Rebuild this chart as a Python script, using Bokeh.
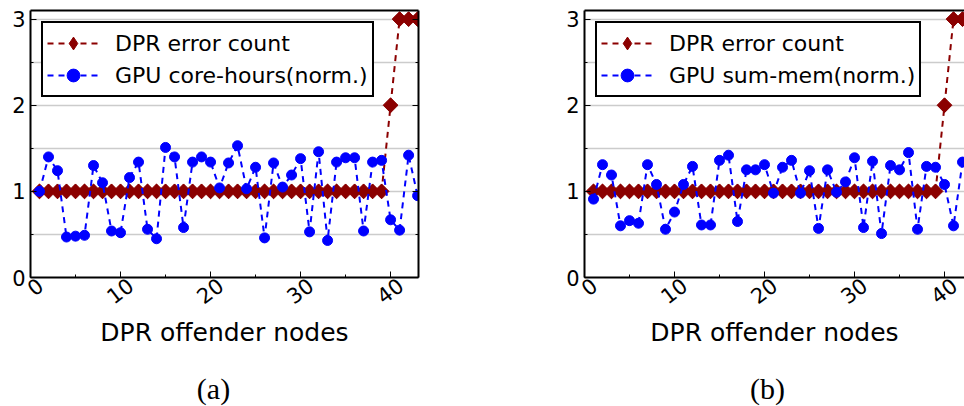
import math
from bokeh.plotting import figure
from bokeh.layouts import row, column
from bokeh.models import (LinearAxis, FixedTicker, Range1d, Grid, Legend, LegendItem, Label,
                          CustomJSTickFormatter)
from bokeh.embed import file_html
from bokeh.resources import INLINE

# ---------------- data ----------------
nodes = [1, 2, 3, 4, 5, 6, 7, 8, 9, 10, 11, 12, 13, 14, 15, 16, 17, 18, 19, 20, 21,
         22, 23, 24, 25, 26, 27, 28, 29, 30, 31, 32, 33, 34, 35, 36, 37, 38, 39, 40,
         41, 42, 43]
dpr_error_count = [1, 1, 1, 1, 1, 1, 1, 1, 1, 1, 1, 1, 1, 1, 1, 1, 1, 1, 1, 1, 1,
                   1, 1, 1, 1, 1, 1, 1, 1, 1, 1, 1, 1, 1, 1, 1, 1, 1, 1, 2,
                   3, 3, 3]
gpu_core_hours = [1.00, 1.40, 1.24, 0.47, 0.48, 0.49, 1.30, 1.10, 0.54, 0.52,
                  1.16, 1.34, 0.56, 0.45, 1.51, 1.40, 0.58, 1.34, 1.40, 1.34,
                  1.04, 1.33, 1.53, 1.03, 1.28, 0.46, 1.33, 1.05, 1.19, 1.38,
                  0.53, 1.46, 0.43, 1.34, 1.39, 1.39, 0.54, 1.34, 1.36, 0.67,
                  0.55, 1.42, 0.95]
nodes_b = [1, 2, 3, 4, 5, 6, 7, 8, 9, 10, 11, 12, 13, 14, 15, 16, 17, 18, 19, 20, 21,
           22, 23, 24, 25, 26, 27, 28, 29, 30, 31, 32, 33, 34, 35, 36, 37, 38, 39, 40,
           41, 42]
gpu_sum_mem = [0.91, 1.31, 1.19, 0.60, 0.66, 0.63, 1.31, 1.08, 0.56, 0.76,
               1.08, 1.29, 0.61, 0.61, 1.36, 1.42, 0.65, 1.25, 1.25, 1.31,
               0.98, 1.28, 1.36, 0.98, 1.24, 0.57, 1.25, 0.99, 1.11, 1.39,
               0.58, 1.35, 0.51, 1.30, 1.25, 1.45, 0.56, 1.29, 1.28, 1.08,
               0.60, 1.34]
x_ticks = [0, 10, 20, 30, 40]
x_minor_ticks = [5, 15, 25, 35]
y_ticks = [0, 1, 2, 3]
y_minor_ticks = [0.5, 1.5, 2.5]

RED = "#8b0000"
BLUE = "#0000ff"
FONT = "DejaVu Sans"
LABEL_SHIFT = 1.1   # rotated x tick labels are centred under their tick


def tick_axis(ticks, tick_len, line):
    # an axis that only draws tick marks (as minor ticks) pointing into the frame
    ax = LinearAxis(ticker=FixedTicker(ticks=[], minor_ticks=ticks))
    ax.axis_line_color = "black" if line else None
    ax.axis_line_width = 2
    ax.major_tick_line_color = None
    ax.minor_tick_in = tick_len
    ax.minor_tick_out = 0
    ax.minor_tick_line_color = "black" if tick_len > 0 else None
    ax.minor_tick_line_width = 1
    ax.major_label_standoff = 0
    return ax


def make_panel(width, border_left, border_right, x_end, gx, gy, gpu_label, right_axis):
    p = figure(width=width, height=366, x_range=Range1d(0, x_end), y_range=Range1d(0, 3.1),
               x_axis_type=None, y_axis_type=None, output_backend="svg", toolbar_location=None,
               min_border_left=border_left, min_border_right=border_right,
               min_border_top=10, min_border_bottom=89)
    p.outline_line_color = None
    p.background_fill_color = "white"
    p.border_fill_color = "white"

    yt = FixedTicker(ticks=y_ticks, minor_ticks=y_minor_ticks)
    grid = Grid(dimension=1, ticker=yt, grid_line_color="#cccccc", grid_line_width=1.5,
                minor_grid_line_color="#cccccc", minor_grid_line_width=1.5)
    p.add_layout(grid)

    # bottom: frame line + ticks, then the labels (rotated, centred under ticks)
    p.add_layout(tick_axis(x_ticks, 6, True), "below")
    p.add_layout(tick_axis(x_minor_ticks, 3, False), "below")
    xl = LinearAxis(ticker=FixedTicker(ticks=[t + LABEL_SHIFT for t in x_ticks], minor_ticks=[]),
                    formatter=CustomJSTickFormatter(code="return String(Math.round(tick / 10) * 10)"),
                    axis_label="DPR offender nodes", major_label_orientation=0.65)
    xl.axis_line_color = None
    xl.major_tick_in = 0
    xl.major_tick_out = 0
    xl.major_tick_line_color = None
    xl.major_label_standoff = 5
    xl.major_label_text_font = FONT
    xl.major_label_text_font_size = "21px"
    xl.major_label_text_color = "black"
    xl.axis_label_text_font = FONT
    xl.axis_label_text_font_size = "25px"
    xl.axis_label_text_font_style = "normal"
    xl.axis_label_text_color = "black"
    xl.axis_label_standoff = 4
    p.add_layout(xl, "below")

    # left: labelled y axis
    yl = LinearAxis(ticker=yt)
    yl.axis_line_color = "black"
    yl.axis_line_width = 2
    yl.major_tick_in = 6
    yl.major_tick_out = 0
    yl.minor_tick_in = 3
    yl.minor_tick_out = 0
    yl.major_tick_line_color = "black"
    yl.minor_tick_line_color = "black"
    yl.major_tick_line_width = 1
    yl.minor_tick_line_width = 1
    yl.major_label_text_font = FONT
    yl.major_label_text_font_size = "21px"
    yl.major_label_text_color = "black"
    yl.major_label_standoff = 5
    p.add_layout(yl, "left")

    # top frame line (no ticks) and right frame line with inward ticks
    p.add_layout(tick_axis(x_ticks, 0, True), "above")
    if right_axis:
        p.add_layout(tick_axis(y_ticks, 6, True), "right")
        p.add_layout(tick_axis(y_minor_ticks, 3, False), "right")

    r_line = p.line(nodes, dpr_error_count, line_color=RED, line_width=2, line_dash="6 5")
    r_leg = p.scatter(nodes, dpr_error_count, marker="diamond", size=14,
                      fill_color=RED, line_color=RED)
    p.scatter(nodes, dpr_error_count, marker="square", angle=math.pi / 4, size=10.5,
              fill_color=RED, line_color=RED)
    g_line = p.line(gx, gy, line_color=BLUE, line_width=2, line_dash="6 5")
    g_pts = p.scatter(gx, gy, marker="circle", size=10, fill_color=BLUE, line_color=BLUE)

    legend = Legend(items=[LegendItem(label="DPR error count", renderers=[r_line, r_leg]),
                           LegendItem(label=gpu_label, renderers=[g_line, g_pts])],
                    location="top_left", margin=11)
    legend.border_line_color = "black"
    legend.border_line_width = 2
    legend.border_line_alpha = 1
    legend.background_fill_color = "white"
    legend.background_fill_alpha = 1
    legend.label_text_font = FONT
    legend.label_text_font_size = "22px"
    legend.label_text_color = "black"
    legend.glyph_width = 52
    legend.glyph_height = 32
    legend.label_height = 32
    legend.spacing = 0
    legend.padding = 4
    legend.label_standoff = 16
    p.add_layout(legend)
    return p


def caption_panel(width, text, cx):
    c = figure(width=width, height=40, x_range=Range1d(0, width), y_range=Range1d(0, 40),
               x_axis_type=None, y_axis_type=None, output_backend="svg", toolbar_location=None,
               min_border=0)
    c.outline_line_color = None
    c.add_layout(Label(x=cx, y=18, text=text, text_align="center", text_baseline="middle",
                       text_font="Liberation Serif", text_font_size="30px", text_color="black"))
    return c


p1 = make_panel(540, 30, 122, 43.1, nodes, gpu_core_hours, "GPU core-hours(norm.)", True)
p2 = make_panel(424, 44, 0, 42.22, nodes_b, gpu_sum_mem, "GPU sum-mem(norm.)", False)
c1 = caption_panel(540, "(a)", 213)
c2 = caption_panel(424, "(b)", 227)

layout = column(row(p1, p2), row(c1, c2))
open("out.html", "w").write(file_html(layout, INLINE))
